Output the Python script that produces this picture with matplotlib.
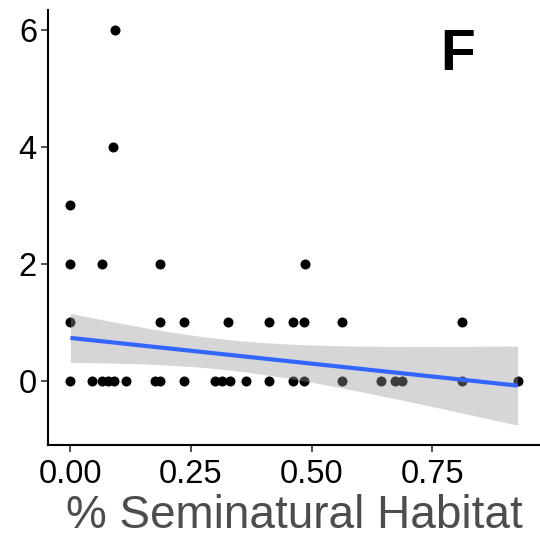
import numpy as np
import matplotlib
matplotlib.use("Agg")
import matplotlib.pyplot as plt

# Data
x_y0 = [0.0, 0.045, 0.066, 0.078, 0.090, 0.115, 0.176, 0.186, 0.235, 0.300, 0.314,
        0.331, 0.364, 0.412, 0.461, 0.485, 0.563, 0.644, 0.672, 0.688, 0.811, 0.927]
x_y1 = [0.0, 0.186, 0.235, 0.326, 0.412, 0.461, 0.485, 0.563, 0.811]
x_y2 = [0.0, 0.066, 0.186, 0.487]
x_y3 = [0.0]
x_y4 = [0.088]
x_y6 = [0.092]

# Fitted trend line and its 95% band
fit_intercept = 0.73
fit_slope = -0.88
band_halfwidth_min = 0.26     # narrowest half-width of the band
band_center_x = 0.32          # x where the band is narrowest
band_halfwidth_at_0 = 0.42    # half-width at x = 0

xticks = [0.0, 0.25, 0.5, 0.75]
xtick_labels = ["0.00", "0.25", "0.50", "0.75"]
yticks = [0, 2, 4, 6]
xlabel = "% Seminatural Habitat"
panel_label = "F"

xs = np.array(x_y0 + x_y1 + x_y2 + x_y3 + x_y4 + x_y6)
ys = np.array([0]*len(x_y0) + [1]*len(x_y1) + [2]*len(x_y2) + [3]*len(x_y3)
              + [4]*len(x_y4) + [6]*len(x_y6), dtype=float)

plt.rcParams['font.family'] = ['Liberation Sans', 'DejaVu Sans']

fig = plt.figure(figsize=(5.4, 5.46), dpi=100)
ax = fig.add_axes([48/540, 1-445/546, (540-48)/540, (445-10)/546])

ax.scatter(xs, ys, s=52, color='black', zorder=2, linewidths=0)

xg = np.linspace(xs.min(), xs.max(), 100)
yg = fit_intercept + fit_slope * xg
a = band_halfwidth_min**2
b = (band_halfwidth_at_0**2 - a) / band_center_x**2
hw = np.sqrt(a + b * (xg - band_center_x)**2)
ax.fill_between(xg, yg - hw, yg + hw, color='#999999', alpha=0.4,
                linewidth=0, zorder=3)
ax.plot(xg, yg, color='#3366FF', linewidth=3, zorder=4, solid_capstyle='butt')

xr = xs.max() - xs.min()
ax.set_xlim(xs.min() - 0.05*xr, xs.max() + 0.05*xr)
ylo = min(ys.min(), (yg - hw).min())
yhi = max(ys.max(), (yg + hw).max())
yr = yhi - ylo
ax.set_ylim(ylo - 0.05*yr, yhi + 0.05*yr)

ax.set_xticks(xticks)
ax.set_xticklabels(xtick_labels)
ax.set_yticks(yticks)
for sp in ['top', 'right']:
    ax.spines[sp].set_visible(False)
for sp in ['left', 'bottom']:
    ax.spines[sp].set_linewidth(1.5)
    ax.spines[sp].set_color('black')
ax.tick_params(axis='both', length=5, width=1.2, color='#333333',
               labelsize=23.5, labelcolor='black', pad=3)
ax.tick_params(axis='x', pad=5)
ax.set_xlabel(xlabel, fontsize=33, color='#4D4D4D', labelpad=3)
fig.text(458/540, 1-55/546, panel_label, fontsize=41,
         fontweight='bold', ha='center', va='center', color='black')

fig.savefig("out.png", dpi=100)
